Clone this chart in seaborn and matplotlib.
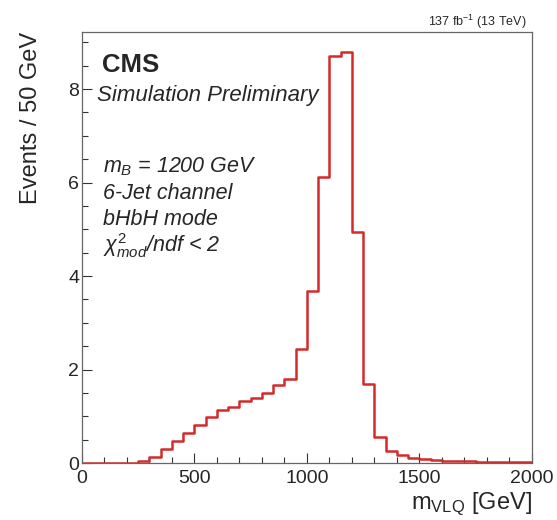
import numpy as np
import pandas as pd
import matplotlib
matplotlib.use("Agg")
import matplotlib.pyplot as plt
from matplotlib.ticker import MultipleLocator
import seaborn as sns

# Reconstructed VLQ mass, 50 GeV bins from 0 to 2000 GeV
bin_edges = list(range(0, 2001, 50))
events = [0.0, 0.0, 0.0, 0.005, 0.01, 0.05, 0.13, 0.30, 0.48, 0.64,
          0.81, 0.99, 1.14, 1.20, 1.32, 1.40, 1.49, 1.67, 1.80, 2.43,
          3.69, 6.12, 8.71, 8.79, 4.95, 1.68, 0.55, 0.26, 0.17, 0.11,
          0.08, 0.06, 0.05, 0.04, 0.04, 0.03, 0.03, 0.02, 0.02, 0.02]
x_ticks = [0, 500, 1000, 1500, 2000]
y_ticks = [0, 2, 4, 6, 8]
info_lines = [r"$m_{B}$ = 1200 GeV", "6-Jet channel", "bHbH mode",
              r"$\chi^{2}_{mod}$/ndf < 2"]

sns.set_style("ticks")
plt.rcParams["font.family"] = ["Liberation Sans", "DejaVu Sans"]
plt.rcParams["mathtext.fontset"] = "custom"
plt.rcParams["mathtext.rm"] = "Liberation Sans"
plt.rcParams["mathtext.it"] = "Liberation Sans:italic"
plt.rcParams["mathtext.bf"] = "Liberation Sans:bold"

centers = [(a + b) / 2 for a, b in zip(bin_edges[:-1], bin_edges[1:])]
df = pd.DataFrame({"mass": centers, "events": events})

fig = plt.figure(figsize=(5.57, 5.2), dpi=100)
ax = fig.add_axes([0.147, 0.1096, 0.808, 0.8288])

sns.histplot(data=df, x="mass", weights="events", bins=bin_edges,
             element="step", fill=False, color="#d42a2a", linewidth=1.8,
             ax=ax)

ax.set_xlim(0, 2000)
ax.set_ylim(0, 9.22)
ax.set_xticks(x_ticks)
ax.set_yticks(y_ticks)
ax.xaxis.set_minor_locator(MultipleLocator(100))
ax.yaxis.set_minor_locator(MultipleLocator(0.5))
ax.tick_params(axis="both", which="major", direction="in", length=7,
               width=0.8, color="#333333", labelsize=14)
ax.tick_params(axis="y", which="major", pad=2)
ax.tick_params(axis="x", which="major", pad=5)
ax.tick_params(axis="both", which="minor", direction="in", length=4,
               width=0.8, color="#333333")
for s in ax.spines.values():
    s.set_color("#666666")
    s.set_linewidth(0.9)

ax.set_xlabel(r"m$_{\mathrm{VLQ}}$ [GeV]", fontsize=17)
ax.set_ylabel("Events / 50 GeV", fontsize=17)
ax.xaxis.set_label_coords(1.0, -0.065)
ax.xaxis.label.set_horizontalalignment("right")
ax.xaxis.label.set_verticalalignment("top")
ax.yaxis.set_label_coords(-0.088, 1.0)
ax.yaxis.label.set_horizontalalignment("right")

ax.text(0.045, 0.923, "CMS", transform=ax.transAxes, fontsize=18.5,
        fontweight="bold", va="center", ha="left")
ax.text(0.033, 0.852, "Simulation Preliminary", transform=ax.transAxes,
        fontsize=16, style="italic", va="center", ha="left")

y0 = 0.687
for i, line in enumerate(info_lines):
    ax.text(0.047, y0 - i * 0.061, line, transform=ax.transAxes,
            fontsize=15.5, style="italic", va="center", ha="left")

fig.text(0.946, 0.957, r"137 fb$^{-1}$ (13 TeV)", fontsize=9,
         ha="right", va="center")

fig.savefig("out.png", dpi=100)
